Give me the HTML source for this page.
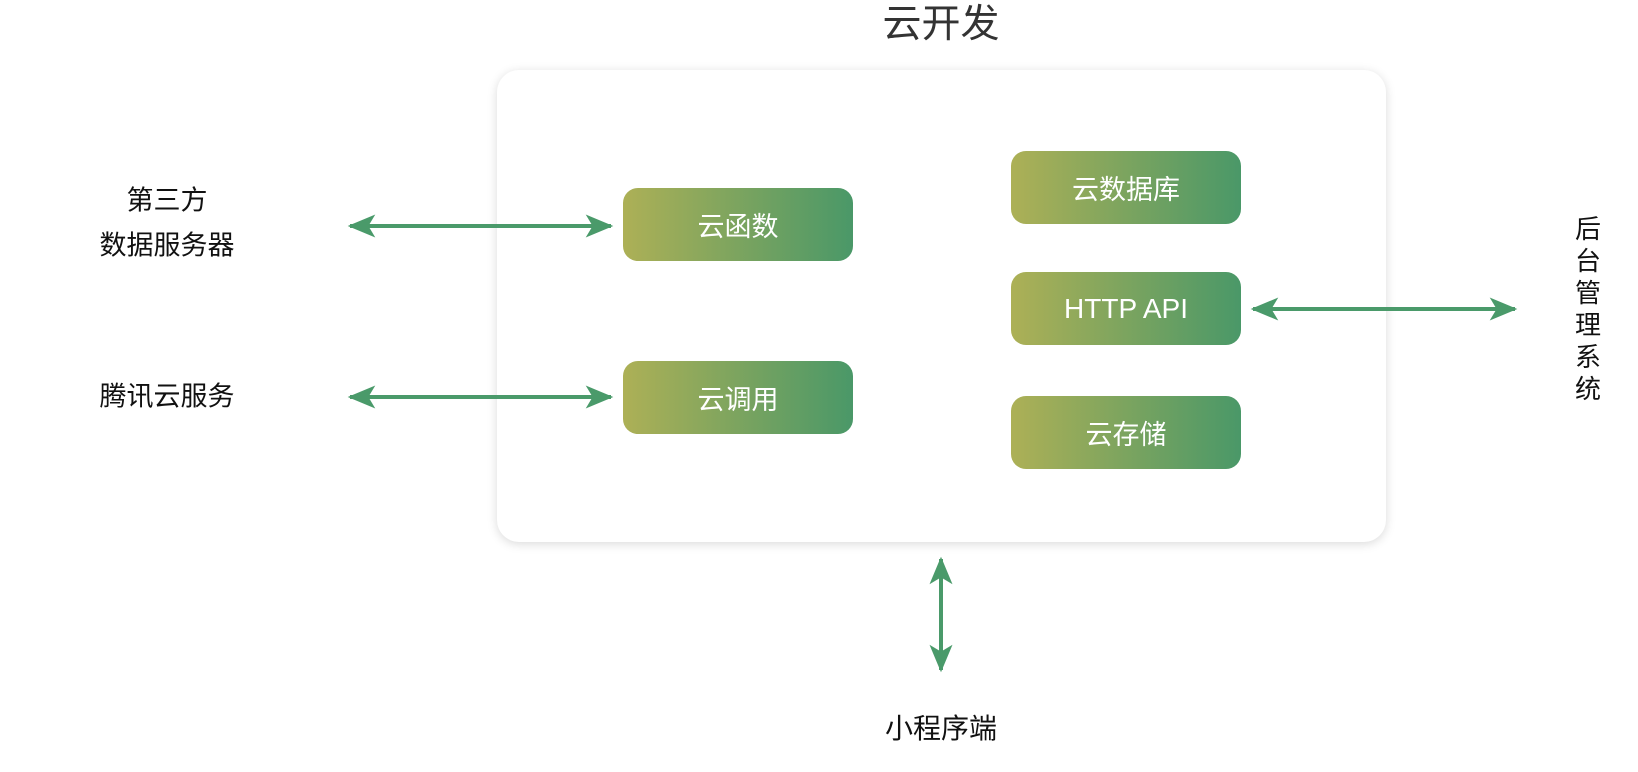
<!DOCTYPE html>
<html><head><meta charset="utf-8"><style>
body{margin:0;width:1638px;height:772px;background:#fff;position:relative;overflow:hidden;font-family:"Liberation Sans","Noto Sans CJK SC",sans-serif;}
.t{position:absolute;white-space:nowrap;transform:translate(-50%,-50%);color:#111;font-size:27px;}
.c{position:absolute;left:497px;top:70px;width:889px;height:472px;border-radius:22px;background:#fff;box-shadow:0 2px 10px rgba(0,0,0,0.15);}
.b{position:absolute;width:230px;height:73px;border-radius:15px;background:linear-gradient(90deg,#adb056,#4a9868);color:#fff;font-size:27px;display:flex;align-items:center;justify-content:center;}
</style></head><body>
<div class="t" style="left:941px;top:21px;font-size:39px;color:#333;">云开发</div>
<div class="c"></div>
<div class="b" style="left:623px;top:188px">云函数</div>
<div class="b" style="left:623px;top:361px">云调用</div>
<div class="b" style="left:1011px;top:151px">云数据库</div>
<div class="b" style="left:1011px;top:272px;font-size:28px">HTTP API</div>
<div class="b" style="left:1011px;top:396px">云存储</div>
<svg width="1638" height="772" style="position:absolute;left:0;top:0">
<defs><marker id="m" viewBox="0 0 12 10" refX="11" refY="5" markerWidth="31" markerHeight="23" markerUnits="userSpaceOnUse" orient="auto-start-reverse"><path d="M0,0 L12,5 L0,10 L3,5 Z" fill="#4a9a6a"/></marker></defs>
<g stroke="#4a9a6a" stroke-width="4" fill="none">
<line x1="350" y1="226" x2="611" y2="226" marker-start="url(#m)" marker-end="url(#m)"/>
<line x1="350" y1="397" x2="611" y2="397" marker-start="url(#m)" marker-end="url(#m)"/>
<line x1="1253" y1="309" x2="1515" y2="309" marker-start="url(#m)" marker-end="url(#m)"/>
<line x1="941" y1="559" x2="941" y2="670" marker-start="url(#m)" marker-end="url(#m)"/>
</g></svg>
<div class="t" style="left:167px;top:198px">第三方</div>
<div class="t" style="left:167px;top:243px">数据服务器</div>
<div class="t" style="left:167px;top:394px">腾讯云服务</div>
<div class="t" style="left:941px;top:727px;font-size:28px">小程序端</div>
<div style="position:absolute;left:1572px;top:213px;width:32px;font-size:26px;line-height:32px;text-align:center;color:#111">后<br>台<br>管<br>理<br>系<br>统</div>
</body></html>
